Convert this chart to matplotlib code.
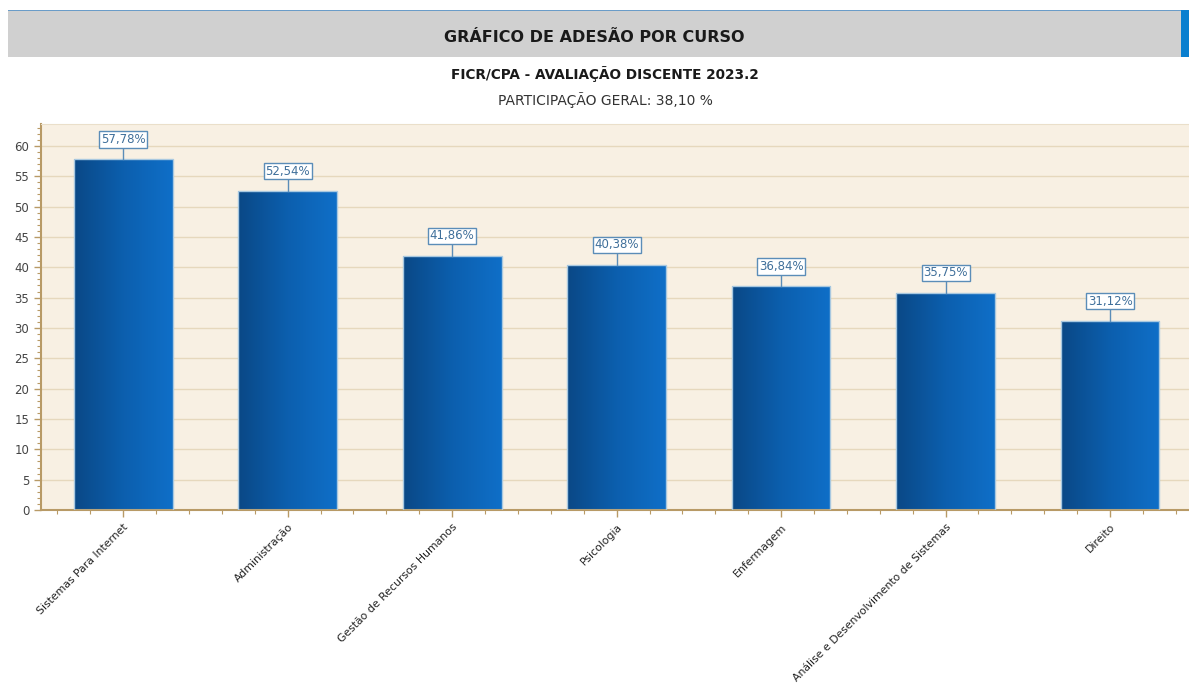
import matplotlib.pyplot as plt
import numpy as np
from matplotlib.patches import Rectangle
from matplotlib.ticker import MultipleLocator
from matplotlib.colors import LinearSegmentedColormap

cursos = ['Sistemas Para Internet', 'Administração', 'Gestão de Recursos Humanos',
          'Psicologia', 'Enfermagem', 'Análise e Desenvolvimento de Sistemas', 'Direito']
adesao = [57.78, 52.54, 41.86, 40.38, 36.84, 35.75, 31.12]

titulo = 'GRÁFICO DE ADESÃO POR CURSO'
subtitulo = 'FICR/CPA - AVALIAÇÃO DISCENTE 2023.2'
participacao = 'PARTICIPAÇÃO GERAL: 38,10 %'

W, H = 1189, 693
fig = plt.figure(figsize=(W / 100, H / 100), dpi=100)

# faixa do cabeçalho
fig.patches.append(Rectangle((8 / W, 1 - 57 / H), 1173 / W, 47 / H,
                             transform=fig.transFigure, facecolor='#d0d0d0', edgecolor='none'))
fig.patches.append(Rectangle((8 / W, 1 - 11 / H), 1181 / W, 1.5 / H,
                             transform=fig.transFigure, facecolor='#6a9cc8', edgecolor='none'))
fig.patches.append(Rectangle((1181 / W, 1 - 57 / H), 8 / W, 47 / H,
                             transform=fig.transFigure, facecolor='#0a7fcf', edgecolor='none'))
fig.text(594 / W, 1 - 37 / H, titulo, ha='center', va='center',
         fontsize=11.5, fontweight='bold', color='#1a1a1a')
fig.text(605 / W, 1 - 74 / H, subtitulo, ha='center', va='center',
         fontsize=9.8, fontweight='bold', color='#1a1a1a')
fig.text(605 / W, 1 - 100 / H, participacao, ha='center', va='center',
         fontsize=10, color='#333333')

ax = fig.add_axes([41 / W, 1 - 510 / H, (W - 41) / W, (510 - 124) / H])
ax.set_facecolor('#f8f0e3')

x = np.arange(len(cursos))
largura = 0.6
cmap = LinearSegmentedColormap.from_list('azul', ['#0a4886', '#0c5fae', '#0f6fc8'])
grad = np.linspace(0, 1, 256).reshape(1, -1)

for xi, v in zip(x, adesao):
    img = ax.imshow(grad, cmap=cmap, aspect='auto',
                    extent=(xi - largura / 2, xi + largura / 2, 0, v + 2),
                    zorder=2, interpolation='bilinear')
    borda = Rectangle((xi - largura / 2, 0), largura, v, facecolor='none',
                      edgecolor='#a8c8e0', linewidth=1, zorder=3)
    ax.add_patch(borda)
    img.set_clip_path(borda)
    ax.plot([xi, xi], [v, v + 1.9], color='#5b8db8', linewidth=1, zorder=3)
    ax.text(xi, v + 3.3, f'{v:.2f}%'.replace('.', ','), ha='center', va='center',
            fontsize=8.5, color='#3f6f9a', zorder=4,
            bbox=dict(boxstyle='square,pad=0.15', facecolor='white',
                      edgecolor='#5b8db8', linewidth=1))

ax.set_xlim(-0.5, 6.48)
ax.set_ylim(0, 63.6)
ax.yaxis.set_major_locator(MultipleLocator(5))
ax.yaxis.set_minor_locator(MultipleLocator(1))
ax.set_xticks(x)
ax.xaxis.set_minor_locator(MultipleLocator(0.2))
ax.set_xticklabels(cursos, rotation=45, ha='right', rotation_mode='anchor',
                   fontsize=7.8, color='#222222')
ax.tick_params(axis='y', labelsize=8.5, labelcolor='#444444')
ax.tick_params(which='both', color='#b89a66', direction='out')
ax.tick_params(which='major', length=5, width=1)
ax.tick_params(which='minor', length=3, width=0.8)
ax.grid(axis='y', color='#e6d8bd', linewidth=1, zorder=1)
ax.set_axisbelow(True)

for s in ['left', 'bottom']:
    ax.spines[s].set_color('#b89a66')
    ax.spines[s].set_linewidth(1.5)
ax.spines['top'].set_color('#eadfca')
ax.spines['right'].set_visible(False)

fig.savefig('out.png', dpi=100)
